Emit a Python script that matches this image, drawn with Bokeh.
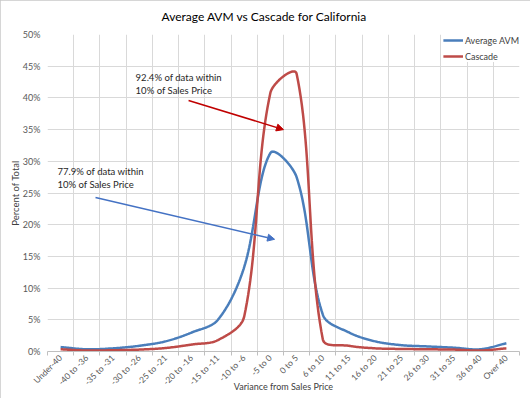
import math
import numpy as np
from bokeh.plotting import figure
from bokeh.models import (Range1d, FixedTicker, PrintfTickFormatter, Legend,
                          LegendItem, Label, Arrow, NormalHead, InlineStyleSheet)
from bokeh.embed import file_html
from bokeh.resources import INLINE

categories = ["Under-40", "-40 to -36", "-35 to -31", "-30 to -26", "-25 to -21",
              "-20 to -16", "-15 to -11", "-10 to -6", "-5 to 0", "0 to 5",
              "6 to 10", "11 to 15", "16 to 20", "21 to 25", "26 to 30",
              "31 to 35", "36 to 40", "Over 40"]
avm = [0.7, 0.35, 0.5, 0.9, 1.6, 3.0, 5.0, 13.3, 31.3, 27.5,
       5.8, 3.0, 1.6, 1.0, 0.8, 0.6, 0.35, 1.3]
cascade = [0.35, 0.15, 0.2, 0.3, 0.55, 1.1, 1.8, 5.5, 40.8, 43.8,
           1.9, 0.9, 0.5, 0.4, 0.35, 0.3, 0.15, 0.5]
y_ticks = [0, 5, 10, 15, 20, 25, 30, 35, 40, 45, 50]

FONT = "Lato"
BLUE = "#4A7EBB"
RED = "#BE4B48"


def smooth(xs, ys, sx=26.2, sy=6.34, steps=30):
    P = np.column_stack([np.asarray(xs, float) * sx, np.asarray(ys, float) * sy])
    n = len(P)
    outx, outy = [], []
    for i in range(n - 1):
        p0 = P[max(i - 1, 0)]
        p1 = P[i]
        p2 = P[i + 1]
        p3 = P[min(i + 2, n - 1)]
        l01 = np.linalg.norm(p1 - p0)
        l12 = np.linalg.norm(p2 - p1)
        l23 = np.linalg.norm(p3 - p2)
        f1 = l12 / (l01 + l12) if (l01 + l12) > 0 else 0
        f2 = l12 / (l12 + l23) if (l12 + l23) > 0 else 0
        c1 = p1 + (p2 - p0) * f1 / 3.0
        c2 = p2 - (p3 - p1) * f2 / 3.0
        ts = np.linspace(0, 1, steps, endpoint=(i == n - 2))
        for t in ts:
            b = ((1 - t) ** 3) * p1 + 3 * ((1 - t) ** 2) * t * c1 + 3 * (1 - t) * t * t * c2 + (t ** 3) * p2
            outx.append(b[0] / sx)
            outy.append(b[1] / sy)
    return outx, outy


xc = [i + 0.5 for i in range(len(categories))]

p = figure(width=530, height=398, x_range=Range1d(0, len(categories)),
           y_range=Range1d(0, 50), output_backend="svg", toolbar_location=None,
           min_border_left=47, min_border_right=11, min_border_top=34,
           min_border_bottom=47)
p.outline_line_color = None
p.background_fill_color = "white"
p.border_fill_color = "white"
p.stylesheets = [InlineStyleSheet(css=":host { outline: 2px solid #C8C8C8; outline-offset: -2px; }")]

p.title.text = "Average AVM vs Cascade for California"
p.title.align = "left"
p.title.offset = 114
p.title.vertical_align = "top"
p.title.standoff = 17
p.title.text_font = FONT
p.title.text_font_size = "12px"
p.title.text_font_style = "normal"
p.title.text_color = "#000000"

# x axis
p.xaxis.ticker = FixedTicker(ticks=xc, minor_ticks=list(range(len(categories) + 1)))
p.xaxis.major_label_overrides = {x: c for x, c in zip(xc, categories)}
p.xaxis.major_label_orientation = math.pi / 4
p.xaxis.major_tick_line_color = None
p.xaxis.major_tick_in = 0
p.xaxis.major_tick_out = 0
p.xaxis.minor_tick_in = 0
p.xaxis.minor_tick_out = 4
p.xaxis.minor_tick_line_color = "#BFBFBF"
p.xaxis.axis_line_color = "#BFBFBF"
p.xaxis.major_label_standoff = 1
p.xaxis.major_label_text_font = FONT
p.xaxis.major_label_text_font_size = "8.5px"
p.xaxis.major_label_text_color = "#595959"
p.xaxis.axis_label = "Variance from Sales Price"
p.xaxis.axis_label_text_font = FONT
p.xaxis.axis_label_text_font_size = "9px"
p.xaxis.axis_label_text_font_style = "normal"
p.xaxis.axis_label_text_color = "#404040"
p.xaxis.axis_label_standoff = -13

# y axis
p.yaxis.ticker = FixedTicker(ticks=y_ticks)
p.yaxis.formatter = PrintfTickFormatter(format="%d%%")
p.yaxis.axis_line_color = None
p.yaxis.major_tick_line_color = None
p.yaxis.minor_tick_line_color = None
p.yaxis.major_tick_out = 0
p.yaxis.major_tick_in = 0
p.yaxis.minor_tick_out = 0
p.yaxis.major_label_standoff = 7
p.yaxis.major_label_text_font = FONT
p.yaxis.major_label_text_font_size = "9px"
p.yaxis.major_label_text_color = "#595959"
p.yaxis.axis_label = "Percent of Total"
p.yaxis.axis_label_text_font = FONT
p.yaxis.axis_label_text_font_size = "9.5px"
p.yaxis.axis_label_text_font_style = "normal"
p.yaxis.axis_label_text_color = "#404040"
p.yaxis.axis_label_standoff = -1

# grids
p.xgrid.ticker = FixedTicker(ticks=list(range(len(categories) + 1)))
p.xgrid.grid_line_color = "#D9D9D9"
p.ygrid.grid_line_color = "#D9D9D9"

ax, ay = smooth(xc, avm)
cx, cy = smooth(xc, cascade)
r1 = p.line(ax, ay, line_color=BLUE, line_width=2.5)
r2 = p.line(cx, cy, line_color=RED, line_width=2.5)

legend = Legend(items=[LegendItem(label="Average AVM", renderers=[r1]),
                       LegendItem(label="Cascade", renderers=[r2])],
                location="top_right", border_line_color=None,
                background_fill_color="white", background_fill_alpha=1.0,
                label_text_font=FONT, label_text_font_size="9px",
                label_text_color="#404040", glyph_width=20, glyph_height=12,
                label_height=12, spacing=4, padding=3, margin=0,
                label_standoff=2)
p.add_layout(legend)

# annotations
ann_color = "#262626"
for txt, x, y in [("92.4% of data within", 3.36, 43.2),
                  ("10% of Sales Price", 3.36, 41.2),
                  ("77.9% of data within", 0.38, 28.4),
                  ("10% of Sales Price", 0.38, 26.3)]:
    p.add_layout(Label(x=x, y=y, text=txt, text_font=FONT, text_font_size="9.5px",
                       text_color=ann_color, text_baseline="middle"))

p.add_layout(Arrow(end=NormalHead(size=7, fill_color="#C00000", line_color="#C00000"),
                   x_start=5.38, y_start=39.6, x_end=9.0, y_end=35.0,
                   line_color="#C00000", line_width=1.5))
p.add_layout(Arrow(end=NormalHead(size=7, fill_color="#4472C4", line_color="#4472C4"),
                   x_start=1.83, y_start=24.3, x_end=8.66, y_end=17.7,
                   line_color="#4472C4", line_width=1.5))

open("out.html", "w").write(file_html(p, INLINE))
